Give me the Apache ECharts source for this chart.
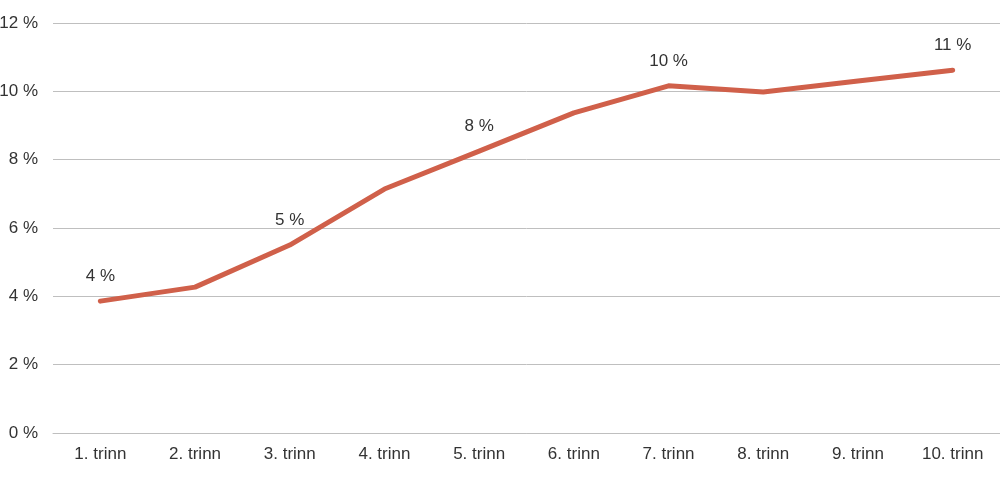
<!DOCTYPE html>
<html><head><meta charset="utf-8">
<script src="https://cdn.jsdelivr.net/npm/echarts@6/dist/echarts.min.js"></script>
<style>html,body{margin:0;padding:0;background:#fff}#c{width:1000px;height:479px}</style>
</head><body><div id="c"></div>
<script>
const categories = ['1. trinn','2. trinn','3. trinn','4. trinn','5. trinn','6. trinn','7. trinn','8. trinn','9. trinn','10. trinn'];
const values = [3.86, 4.27, 5.50, 7.14, 8.25, 9.37, 10.16, 9.98, 10.30, 10.62];
const pointLabels = ['4 %','','5 %','','8 %','','10 %','','','11 %'];
const yTicks = [0, 2, 4, 6, 8, 10, 12];

const chart = echarts.init(document.getElementById('c'), null, {renderer:'canvas'});
const font = 'Liberation Sans, Arial, sans-serif';
chart.setOption({
  animation:false,
  grid:{left:53, right:0, top:23, bottom:46, containLabel:false, outerBoundsMode:'none'},
  xAxis:{type:'category', data:categories, boundaryGap:true,
    axisLine:{show:true, lineStyle:{color:'#bfbfbf', width:1}},
    axisTick:{show:false},
    axisLabel:{color:'#333', fontFamily:font, fontSize:17, margin:13}},
  yAxis:{type:'value', min:yTicks[0], max:yTicks[yTicks.length-1], interval:2,
    axisLine:{show:false}, axisTick:{show:false},
    splitLine:{lineStyle:{color:'#bfbfbf', width:1}},
    axisLabel:{color:'#333', fontFamily:font, fontSize:17, margin:15, formatter:v=>v+' %'}},
  series:[{type:'line', data:values.map((v,i)=>({value:v, label:{show:pointLabels[i]!=='', formatter:pointLabels[i]}})),
    symbol:'circle', symbolSize:1, showSymbol:true, itemStyle:{color:'rgba(0,0,0,0)'},
    lineStyle:{color:'#d0604a', width:5, cap:'round', join:'round'},
    label:{position:'top', distance:16, color:'#333', fontFamily:font, fontSize:17}}]
});
</script></body></html>
